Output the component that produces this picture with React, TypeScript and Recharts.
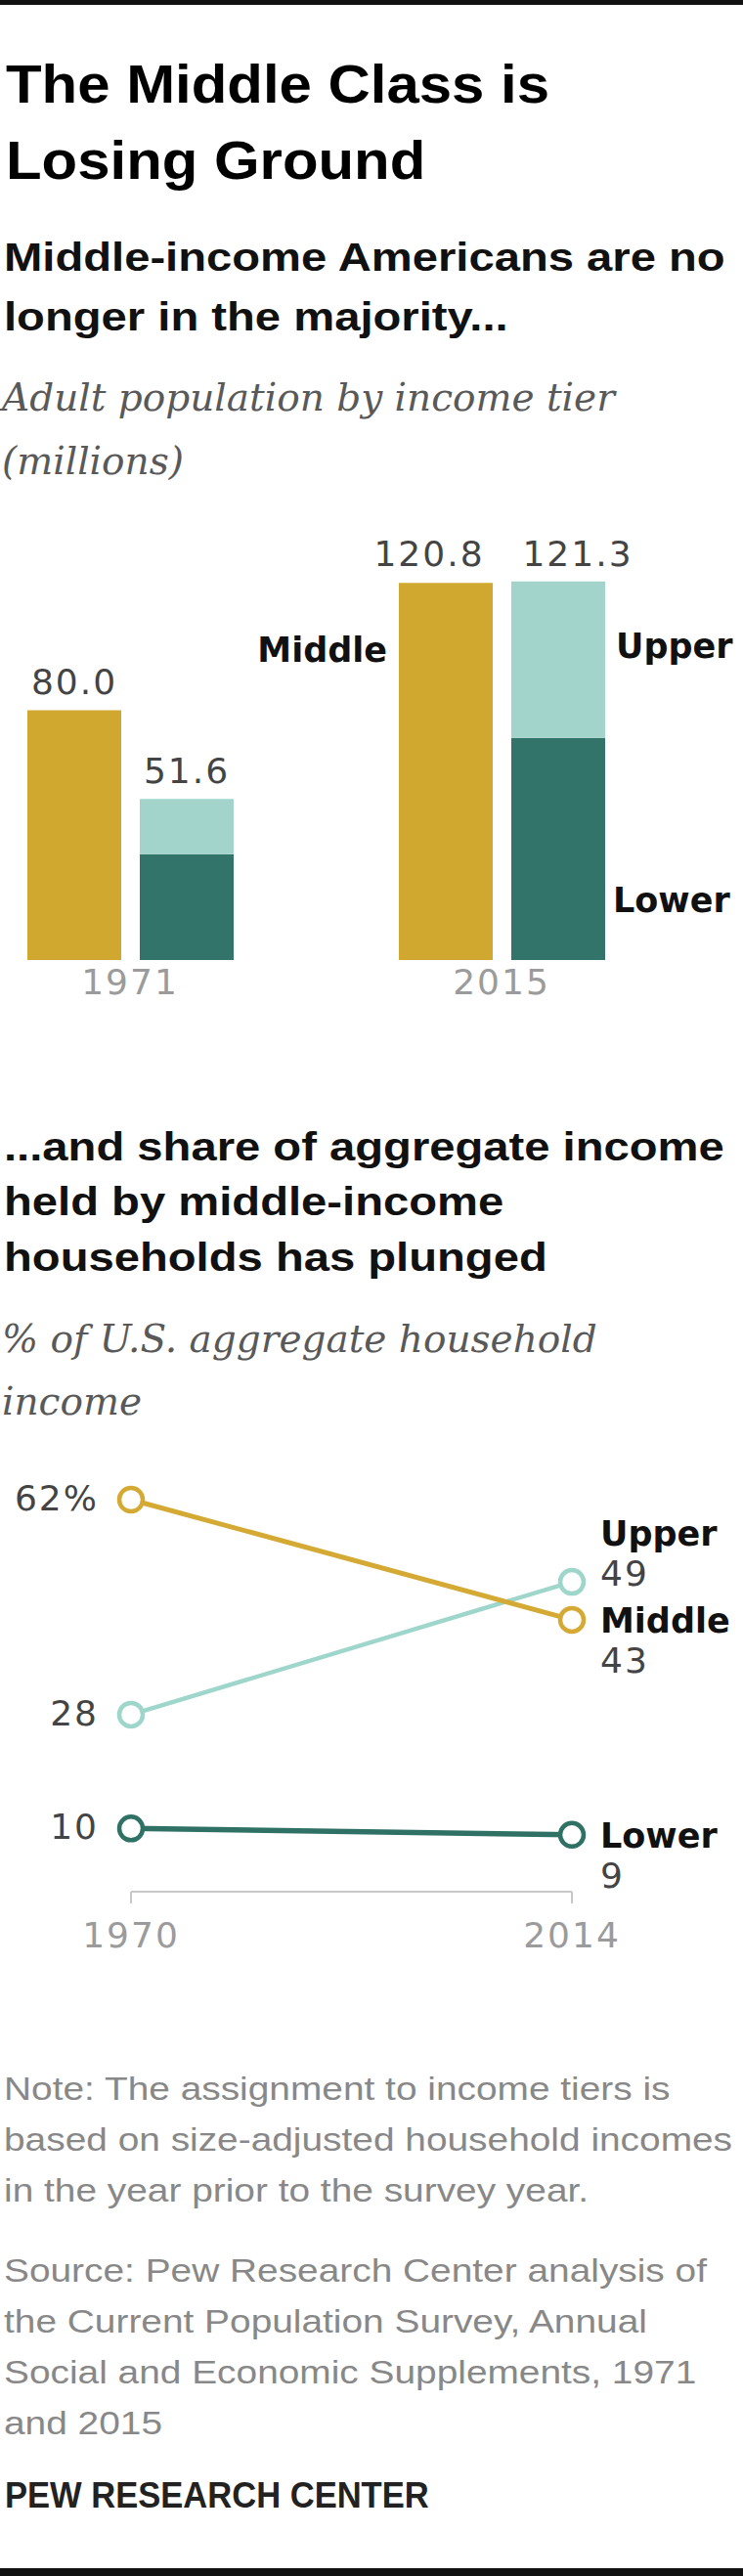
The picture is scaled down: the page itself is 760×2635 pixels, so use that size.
import React from 'react';
import { BarChart, Bar, XAxis, YAxis, LabelList, LineChart, Line } from 'recharts';

// ---- data ----
const barYears = ['1971', '2015'];
const middlePop = [80.0, 120.8];
const lowerPop = [33.9, 71.2];
const upperPop = [17.7, 50.1];

const lineYears = ['1970', '2014'];
const upperShare = [28, 49];
const middleShare = [62, 43];
const lowerShare = [10, 9];

const tierNames = ['Lower', 'Middle', 'Upper'];

const titleLines = ['The Middle Class is', 'Losing Ground'];
const sub1Lines = ['Middle-income Americans are no', 'longer in the majority...'];
const unit1Lines = ['Adult population by income tier', '(millions)'];
const sub2Lines = ['...and share of aggregate income', 'held by middle-income', 'households has plunged'];
const unit2Lines = ['% of U.S. aggregate household', 'income'];
const noteLines = [
  'Note: The assignment to income tiers is',
  'based on size-adjusted household incomes',
  'in the year prior to the survey year.',
];
const sourceLines = [
  'Source: Pew Research Center analysis of',
  'the Current Population Survey, Annual',
  'Social and Economic Supplements, 1971',
  'and 2015',
];
const brand = 'PEW RESEARCH CENTER';

// ---- styles ----
const GOLD = '#D0A830';
const LIGHT = '#A3D4CB';
const DARK = '#33746A';
const LINE_GOLD = '#D4AA35';
const LINE_LIGHT = '#9FD6CB';
const LINE_DARK = '#2F7165';

const NUM: React.CSSProperties = { fontFamily: "'DejaVu Sans', sans-serif", fontSize: 36, letterSpacing: 2 };
const NAME: React.CSSProperties = { fontFamily: "'DejaVu Sans', sans-serif", fontSize: 35, fontWeight: 700 };

const barData = barYears.map((year, i) => ({
  year,
  middle: middlePop[i],
  lower: lowerPop[i],
  upper: upperPop[i],
  total: Math.round((lowerPop[i] + upperPop[i]) * 10) / 10,
}));

const lineData = lineYears.map((year, i) => ({
  year,
  upper: upperShare[i],
  middle: middleShare[i],
  lower: lowerShare[i],
}));

function n(a: any, b: any) {
  if (typeof a === 'number' && !isNaN(a)) return a;
  if (typeof b === 'number' && !isNaN(b)) return b;
  return 0;
}
function geom(p: any) {
  const vb = p.viewBox || {};
  return { x: n(vb.x, p.x), y: n(vb.y, p.y), w: n(vb.width, p.width), h: n(vb.height, p.height) };
}
const lastBar = barYears.length - 1;

function YearTick(props: any) {
  const { x, y, payload, baseDy } = props;
  return (
    <text x={x} y={y} dy={baseDy} textAnchor="middle" style={NUM} fill="#9b9b9b">
      {payload.value}
    </text>
  );
}

function MiddleValueLabel(props: any) {
  const { x, y, w } = geom(props);
  const shift = props.index === lastBar ? -17 : 0;
  return (
    <text x={x + w / 2 + shift} y={y - 17} textAnchor="middle" style={NUM} fill="#444">
      {Number(props.value).toFixed(1)}
    </text>
  );
}
function TotalValueLabel(props: any) {
  const { x, y, w } = geom(props);
  const shift = props.index === lastBar ? 20 : 0;
  return (
    <text x={x + w / 2 + shift} y={y - 16} textAnchor="middle" style={NUM} fill="#444">
      {Number(props.value).toFixed(1)}
    </text>
  );
}
function MiddleNameLabel(props: any) {
  if (props.index !== lastBar) return null;
  const { x, y } = geom(props);
  return (
    <text x={x - 12} y={y + 81} textAnchor="end" style={NAME} fill="#111">
      {tierNames[1]}
    </text>
  );
}
function UpperNameLabel(props: any) {
  if (props.index !== lastBar) return null;
  const { x, y, w, h } = geom(props);
  return (
    <text x={x + w + 11} y={y + h / 2 - 2} textAnchor="start" style={NAME} fill="#111">
      {tierNames[2]}
    </text>
  );
}
function LowerNameLabel(props: any) {
  if (props.index !== lastBar) return null;
  const { x, y, w, h } = geom(props);
  return (
    <text x={x + w + 8} y={y + h - 49} textAnchor="start" style={NAME} fill="#111">
      {tierNames[0]}
    </text>
  );
}

function makeLineLabel(name: string, nameAbove: boolean, pct: boolean) {
  return function LineLabel(props: any) {
    const { x, y } = geom(props);
    const v = props.value;
    if (props.index === 0) {
      return (
        <text x={x - 33} y={y + 11} textAnchor="end" style={NUM} fill="#444">
          {v}
          {pct ? '%' : ''}
        </text>
      );
    }
    const nameY = nameAbove ? y - 50 : y;
    const valY = nameY + 41;
    return (
      <g>
        <text x={x + 29} y={nameY + 13} textAnchor="start" style={NAME} fill="#111">
          {name}
        </text>
        <text x={x + 29} y={valY + 13} textAnchor="start" style={NUM} fill="#444">
          {v}
        </text>
      </g>
    );
  };
}
const UpperLineLabel = makeLineLabel(tierNames[2], true, false);
const MiddleLineLabel = makeLineLabel(tierNames[1], false, true);
const LowerLineLabel = makeLineLabel(tierNames[0], false, false);

function TextBlock(props: {
  lines: string[];
  baselines: number[];
  x: number;
  font: React.CSSProperties;
  fill: string;
  sx?: number;
}) {
  const { lines, baselines, x, font, fill, sx = 1 } = props;
  return (
    <>
      {lines.map((t, i) => (
        <text key={i} transform={`translate(${x},${baselines[i]}) scale(${sx},1)`} style={font} fill={fill}>
          {t}
        </text>
      ))}
    </>
  );
}

const HEAD: React.CSSProperties = { fontFamily: "'Liberation Sans', Arial, sans-serif", fontWeight: 700, fontSize: 40 };
const TITLE: React.CSSProperties = { fontFamily: "'Liberation Sans', Arial, sans-serif", fontWeight: 700, fontSize: 56 };
const ITAL: React.CSSProperties = { fontFamily: "'DejaVu Serif', serif", fontStyle: 'italic', fontSize: 39 };
const NOTE: React.CSSProperties = { fontFamily: "'Liberation Sans', Arial, sans-serif", fontSize: 33.5 };
const BRAND: React.CSSProperties = { fontFamily: "'Liberation Sans', Arial, sans-serif", fontWeight: 700, fontSize: 36 };

export default function App() {
  return (
    <div style={{ position: 'relative', width: 760, height: 2635, overflow: 'hidden', background: '#fff' }}>
      <style>{'body{margin:0}'}</style>
      <div style={{ position: 'absolute', left: 0, top: 0, width: 760, height: 5, background: '#111' }} />
      <div style={{ position: 'absolute', left: 0, top: 2627, width: 760, height: 8, background: '#111' }} />

      <svg width={760} height={2635} style={{ position: 'absolute', left: 0, top: 0 }}>
        <TextBlock lines={titleLines} baselines={[105, 183]} x={6} font={TITLE} fill="#000" sx={1.07} />
        <TextBlock lines={sub1Lines} baselines={[277, 338]} x={4} font={HEAD} fill="#111" sx={1.18} />
        <TextBlock lines={unit1Lines} baselines={[420, 485]} x={2} font={ITAL} fill="#595959" />
        <TextBlock lines={sub2Lines} baselines={[1187, 1243, 1300]} x={4} font={HEAD} fill="#111" sx={1.18} />
        <TextBlock lines={unit2Lines} baselines={[1383, 1447]} x={2} font={ITAL} fill="#595959" />
        <TextBlock lines={noteLines} baselines={[2148, 2200, 2252]} x={4} font={NOTE} fill="#888" sx={1.16} />
        <TextBlock lines={sourceLines} baselines={[2334, 2386, 2438, 2490]} x={4} font={NOTE} fill="#888" sx={1.16} />
        <TextBlock lines={[brand]} baselines={[2565]} x={5} font={BRAND} fill="#222" sx={0.96} />
      </svg>

      <div style={{ position: 'absolute', left: -57, top: 520 }}>
        <BarChart
          width={840}
          height={512}
          data={barData}
          margin={{ top: 47, right: 80, bottom: 0, left: 0 }}
          barSize={96}
          barGap={19}
        >
          <XAxis
            dataKey="year"
            axisLine={false}
            tickLine={false}
            tickSize={0}
            tickMargin={11}
            height={50}
            interval={0}
            tick={<YearTick baseDy={24} />}
          />
          <YAxis hide domain={[0, 130]} />
          <Bar dataKey="middle" stackId="a" fill={GOLD} isAnimationActive={false}>
            <LabelList dataKey="middle" content={MiddleValueLabel} />
            <LabelList dataKey="middle" content={MiddleNameLabel} />
          </Bar>
          <Bar dataKey="lower" stackId="b" fill={DARK} isAnimationActive={false}>
            <LabelList dataKey="lower" content={LowerNameLabel} />
          </Bar>
          <Bar dataKey="upper" stackId="b" fill={LIGHT} isAnimationActive={false}>
            <LabelList dataKey="total" content={TotalValueLabel} />
            <LabelList dataKey="upper" content={UpperNameLabel} />
          </Bar>
        </BarChart>
      </div>

      <div style={{ position: 'absolute', left: 0, top: 1480 }}>
        <LineChart width={760} height={525} data={lineData} margin={{ top: 54, right: 175, bottom: 0, left: 134 }}>
          <XAxis
            dataKey="year"
            axisLine={{ stroke: '#c8c8c8', strokeWidth: 2 }}
            tickLine={{ stroke: '#c8c8c8', strokeWidth: 2 }}
            tickSize={12}
            tickMargin={0}
            height={70}
            interval={0}
            tick={<YearTick baseDy={45} />}
          />
          <YAxis hide domain={[0, 62]} />
          <Line
            dataKey="upper"
            stroke={LINE_LIGHT}
            strokeWidth={4.5}
            dot={{ r: 12, fill: '#fff', stroke: LINE_LIGHT, strokeWidth: 4.5 }}
            isAnimationActive={false}
          >
            <LabelList dataKey="upper" content={UpperLineLabel} />
          </Line>
          <Line
            dataKey="middle"
            stroke={LINE_GOLD}
            strokeWidth={5}
            dot={{ r: 12, fill: '#fff', stroke: LINE_GOLD, strokeWidth: 4.5 }}
            isAnimationActive={false}
          >
            <LabelList dataKey="middle" content={MiddleLineLabel} />
          </Line>
          <Line
            dataKey="lower"
            stroke={LINE_DARK}
            strokeWidth={5.5}
            dot={{ r: 12, fill: '#fff', stroke: LINE_DARK, strokeWidth: 4.5 }}
            isAnimationActive={false}
          >
            <LabelList dataKey="lower" content={LowerLineLabel} />
          </Line>
        </LineChart>
      </div>
    </div>
  );
}
